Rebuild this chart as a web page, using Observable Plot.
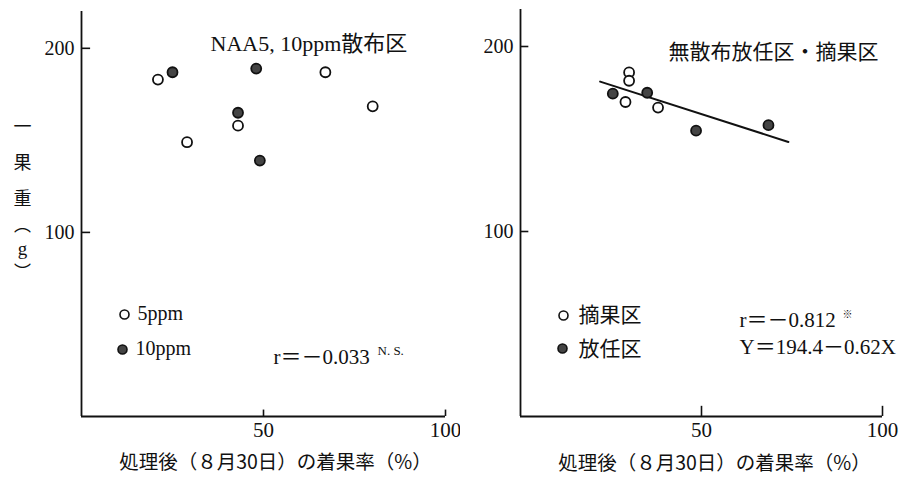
<!DOCTYPE html>
<html>
<head>
<meta charset="utf-8">
<script src="https://cdn.jsdelivr.net/npm/d3@7"></script>
<script src="https://cdn.jsdelivr.net/npm/@observablehq/plot@0.6"></script>
<style>
  body { margin: 0; background: #fff; }
  #wrap { position: relative; width: 913px; height: 477px; overflow: hidden; }
  #left, #right { position: absolute; top: 0; }
  #left { left: 0; }
  #right { left: 460px; }
</style>
</head>
<body>
<div id="wrap"><div id="left"></div><div id="right"></div></div>
<script>
// ---------- data ----------
const xTicks = [50, 100];
const yTicks = [100, 200];

// Left panel: NAA 5 / 10 ppm sprayed
const left5X  = [21, 29, 43, 67, 80];
const left5Y  = [183, 149, 158, 187, 168.5];
const left10X = [25, 48, 43, 49];
const left10Y = [187, 189, 165, 139];

// Right panel: unsprayed, free (放任区) and thinned (摘果区)
const thinX = [30, 30, 29, 38];
const thinY = [186, 181.5, 170, 167];
const freeX = [25.5, 35, 48.5, 68.5];
const freeY = [174.5, 175, 154.5, 157.5];
// regression line ends as drawn
const lineX = [22, 74];
const lineY = [181, 148.4];

// texts
const titleLeft = "NAA5, 10ppm散布区";
const titleRight = "無散布放任区・摘果区";
const legendLeft = ["5ppm", "10ppm"];
const legendRight = ["摘果区", "放任区"];
const statLeft = "r＝－0.033";
const statLeftSup = "N. S.";
const statRight = "r＝－0.812";
const statRightSup = "※";
const eqRight = "Y＝194.4－0.62X";
const xLabel = "処理後（８月30日）の着果率（%）";
const yLabelTop = "一\n果\n重";
const yLabelParts = ["︵", "g", "︶"];

// ---------- style ----------
const serif = "'Liberation Serif', 'Noto Sans CJK JP', serif";
const jp = "'Noto Sans CJK JP', sans-serif";
const ink = "#111";
const toPts = (xs, ys) => xs.map((x, i) => ({x, y: ys[i]}));

function openDot(data, extra = {}) {
  return Plot.dot(data, {x: "x", y: "y", r: 5, stroke: ink, strokeWidth: 1.8, fill: "white", ...extra});
}
function fullDot(data, extra = {}) {
  return Plot.dot(data, {x: "x", y: "y", r: 5, stroke: ink, strokeWidth: 1.8, fill: "#444", ...extra});
}

function baseMarks(xTickLen, yTickLen) {
  return [
    Plot.ruleX([0], {stroke: ink, strokeWidth: 1.8}),
    Plot.ruleY([0], {x1: 0, x2: 100, stroke: ink, strokeWidth: 1.8}),
    Plot.ruleY(yTicks, {x1: 0, x2: yTickLen, stroke: ink, strokeWidth: 1.6}),
    Plot.ruleX(xTicks, {y1: 0, y2: xTickLen, stroke: ink, strokeWidth: 1.6}),
    Plot.axisY({ticks: yTicks, tickSize: 0, tickPadding: 7, fontSize: 20, fontFamily: serif, label: null, color: ink}),
    Plot.axisX({ticks: xTicks, tickSize: 0, tickPadding: 6, fontSize: 21, fontFamily: serif, label: null, color: ink})
  ];
}

// ---------- left ----------
const leftPlot = Plot.plot({
  width: 460, height: 477,
  marginLeft: 81, marginRight: 15, marginTop: 11, marginBottom: 61,
  x: {domain: [0, 100]},
  y: {domain: [0, 220]},
  style: {fontFamily: serif, color: ink, background: "white", overflow: "visible"},
  marks: [
    ...baseMarks(3.5, 2.5),
    openDot(toPts(left5X, left5Y)),
    fullDot(toPts(left10X, left10Y)),
    Plot.text([titleLeft], {frameAnchor: "top-left", dx: 129, dy: 32, textAnchor: "start", lineAnchor: "middle", fontSize: 22, fontFamily: serif, fill: ink}),
    Plot.dot([legendLeft[0]], {frameAnchor: "top-left", dx: 43, dy: 303, r: 4.5, stroke: ink, strokeWidth: 1.6, fill: "white"}),
    Plot.dot([legendLeft[1]], {frameAnchor: "top-left", dx: 41, dy: 338, r: 4.5, stroke: ink, strokeWidth: 1.6, fill: "#444"}),
    Plot.text([legendLeft[0]], {frameAnchor: "top-left", dx: 56, dy: 302, textAnchor: "start", lineAnchor: "middle", fontSize: 20, fontFamily: serif, fill: ink}),
    Plot.text([legendLeft[1]], {frameAnchor: "top-left", dx: 54, dy: 337, textAnchor: "start", lineAnchor: "middle", fontSize: 20, fontFamily: serif, fill: ink}),
    Plot.text([statLeft], {frameAnchor: "top-left", dx: 192, dy: 346, textAnchor: "start", lineAnchor: "middle", fontSize: 21, fontFamily: serif, fill: ink}),
    Plot.text([statLeftSup], {frameAnchor: "top-left", dx: 296, dy: 339, textAnchor: "start", lineAnchor: "middle", fontSize: 13, fontFamily: serif, fill: ink}),
    Plot.text([xLabel], {frameAnchor: "bottom", dx: 12, dy: 46, textAnchor: "middle", lineAnchor: "middle", fontSize: 19.5, fontFamily: jp, fill: ink}),
    Plot.text([yLabelTop], {frameAnchor: "top-left", dx: -59, dy: 146, textAnchor: "middle", lineAnchor: "middle", lineHeight: 2.0, fontSize: 18, fontFamily: jp, fill: ink}),
    Plot.text([yLabelParts[0]], {frameAnchor: "top-left", dx: -59, dy: 214, textAnchor: "middle", lineAnchor: "middle", fontSize: 17, fontFamily: jp, fill: ink}),
    Plot.text([yLabelParts[1]], {frameAnchor: "top-left", dx: -59, dy: 237, textAnchor: "middle", lineAnchor: "middle", fontSize: 19, fontFamily: serif, fill: ink}),
    Plot.text([yLabelParts[2]], {frameAnchor: "top-left", dx: -59, dy: 261, textAnchor: "middle", lineAnchor: "middle", fontSize: 17, fontFamily: jp, fill: ink})
  ]
});
document.getElementById("left").appendChild(leftPlot);

// ---------- right ----------
const rightPlot = Plot.plot({
  width: 453, height: 477,
  marginLeft: 60, marginRight: 31, marginTop: 9, marginBottom: 61,
  x: {domain: [0, 100]},
  y: {domain: [0, 220]},
  style: {fontFamily: serif, color: ink, background: "white", overflow: "visible"},
  marks: [
    ...baseMarks(5.5, 2.3),
    Plot.line(toPts(lineX, lineY), {x: "x", y: "y", stroke: ink, strokeWidth: 2}),
    openDot(toPts(thinX, thinY)),
    fullDot(toPts(freeX, freeY)),
    Plot.text([titleRight], {frameAnchor: "top-left", dx: 148, dy: 43, textAnchor: "start", lineAnchor: "middle", fontSize: 21, fontFamily: jp, fill: ink}),
    Plot.dot([legendRight[0]], {frameAnchor: "top-left", dx: 43, dy: 306, r: 4.5, stroke: ink, strokeWidth: 1.6, fill: "white"}),
    Plot.dot([legendRight[1]], {frameAnchor: "top-left", dx: 42, dy: 339, r: 4.5, stroke: ink, strokeWidth: 1.6, fill: "#444"}),
    Plot.text([legendRight[0]], {frameAnchor: "top-left", dx: 58, dy: 306, textAnchor: "start", lineAnchor: "middle", fontSize: 21, fontFamily: jp, fill: ink}),
    Plot.text([legendRight[1]], {frameAnchor: "top-left", dx: 58, dy: 340, textAnchor: "start", lineAnchor: "middle", fontSize: 21, fontFamily: jp, fill: ink}),
    Plot.text([statRight], {frameAnchor: "top-left", dx: 219, dy: 311, textAnchor: "start", lineAnchor: "middle", fontSize: 21, fontFamily: serif, fill: ink}),
    Plot.text([statRightSup], {frameAnchor: "top-left", dx: 322, dy: 305, textAnchor: "start", lineAnchor: "middle", fontSize: 10, fontFamily: jp, fill: ink}),
    Plot.text([eqRight], {frameAnchor: "top-left", dx: 219, dy: 338, textAnchor: "start", lineAnchor: "middle", fontSize: 21, fontFamily: serif, fill: ink}),
    Plot.text([xLabel], {frameAnchor: "bottom", dx: 13, dy: 47, textAnchor: "middle", lineAnchor: "middle", fontSize: 19.5, fontFamily: jp, fill: ink})
  ]
});
document.getElementById("right").appendChild(rightPlot);
</script>
</body>
</html>
